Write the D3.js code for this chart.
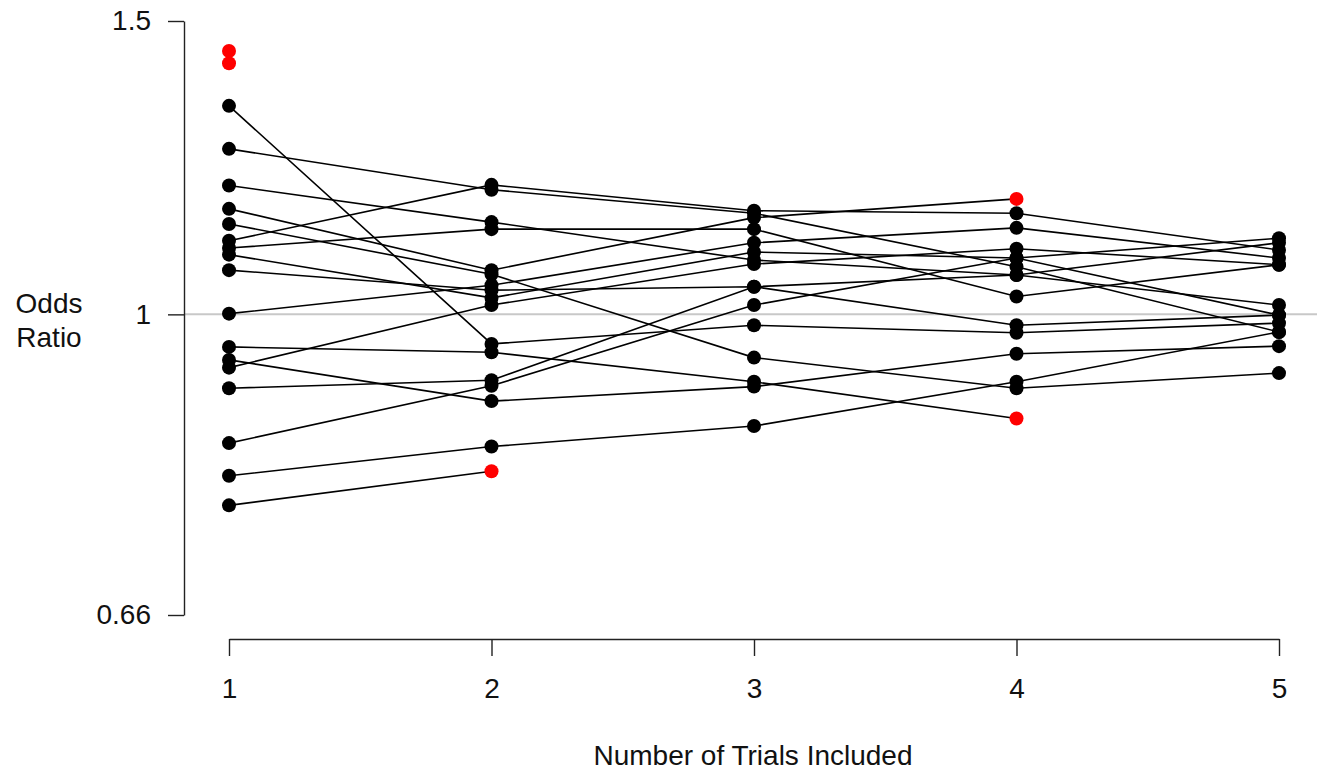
<!DOCTYPE html>
<html>
<head>
<meta charset="utf-8">
<script src="https://cdn.jsdelivr.net/npm/d3@7"></script>
<style>
  body { margin: 0; background: #fff; }
  svg text { font-family: "Liberation Sans", Arial, sans-serif; fill: #111; }
</style>
</head>
<body>
<script>
// trial numbers on the x axis
var trials = [1, 2, 3, 4, 5];

// y axis ticks (log scale)
var yTicks = [0.66, 1, 1.5];
var yTickLabels = ["0.66", "1", "1.5"];

// cumulative odds ratio for each run, one value per trial included;
// runs that stop early are shorter (their last point is drawn red)
var runs = [
  [1.439],
  [1.415],
  [1.334, 0.960, 0.985, 0.975, 0.988],
  [1.257, 1.188, 1.150, 1.068, 0.976],
  [1.195, 1.136, 1.078, 1.056, 1.013],
  [1.157, 1.063, 1.143, 1.173],
  [1.133, 1.057, 0.942, 0.903, 0.922],
  [1.107, 1.196, 1.154, 1.150, 1.093],
  [1.096, 1.125, 1.125, 1.025, 1.071],
  [1.086, 1.023, 1.090, 1.081, 1.111],
  [1.063, 1.034, 1.039, 0.985, 0.999],
  [1.001, 1.041, 1.104, 1.127, 1.081],
  [0.956, 0.949, 0.911, 0.866],
  [0.939, 0.887, 0.905, 0.947, 0.957],
  [0.929, 1.013, 1.072, 1.095, 1.071],
  [0.903, 0.913, 1.039, 1.056, 1.104],
  [0.837, 0.906, 1.013, 1.081, 0.999],
  [0.800, 0.833, 0.857, 0.911, 0.976],
  [0.768, 0.805]
];

var W = 1317, H = 773;
var svg = d3.select("body").append("svg")
  .attr("width", W).attr("height", H);

var x = d3.scaleLinear().domain([1, 5]).range([229, 1279]);
var y = d3.scaleLog().domain([0.66, 1.5]).range([615, 21]);

// reference line at OR = 1
svg.append("line")
  .attr("x1", 184).attr("x2", W)
  .attr("y1", y(1)).attr("y2", y(1))
  .style("stroke", "#c8c8c8")
  .style("stroke-width", 2);

// y axis
svg.append("g")
  .attr("transform", "translate(184,0)")
  .call(d3.axisLeft(y)
    .tickValues(yTicks)
    .tickFormat(function(d, i) { return yTickLabels[i]; })
    .tickSize(16).tickSizeOuter(0).tickPadding(17));

// x axis
svg.append("g")
  .attr("transform", "translate(0,639)")
  .call(d3.axisBottom(x)
    .tickValues(trials)
    .tickFormat(d3.format("d"))
    .tickSize(17).tickSizeOuter(0).tickPadding(22));

svg.selectAll(".tick text").style("font-size", "28px");
svg.selectAll(".domain, .tick line")
  .style("stroke", "#222").style("stroke-width", 1.4);

// axis titles
svg.append("text")
  .attr("x", 49).attr("y", 313)
  .attr("text-anchor", "middle")
  .style("font-size", "28px")
  .text("Odds");
svg.append("text")
  .attr("x", 49).attr("y", 347)
  .attr("text-anchor", "middle")
  .style("font-size", "28px")
  .text("Ratio");
svg.append("text")
  .attr("x", 753).attr("y", 765)
  .attr("text-anchor", "middle")
  .style("font-size", "28px")
  .text("Number of Trials Included");

var line = d3.line()
  .x(function(d, i) { return x(trials[i]); })
  .y(function(d) { return y(d); });

svg.selectAll(".run")
  .data(runs)
  .enter()
  .append("path")
  .attr("class", "run")
  .attr("d", line)
  .style("fill", "none")
  .style("stroke", "#000")
  .style("stroke-width", 1.6);

// flatten to points, mark last point of runs that stop before trial 5
var pts = [];
runs.forEach(function(r) {
  r.forEach(function(v, i) {
    pts.push({ t: trials[i], v: v, stop: r.length < 5 && i === r.length - 1 });
  });
});

svg.selectAll("circle")
  .data(pts)
  .enter()
  .append("circle")
  .attr("cx", function(d) { return x(d.t); })
  .attr("cy", function(d) { return y(d.v); })
  .attr("r", 7)
  .attr("fill", function(d) { return d.stop ? "#ff0000" : "#000"; });
</script>
</body>
</html>
